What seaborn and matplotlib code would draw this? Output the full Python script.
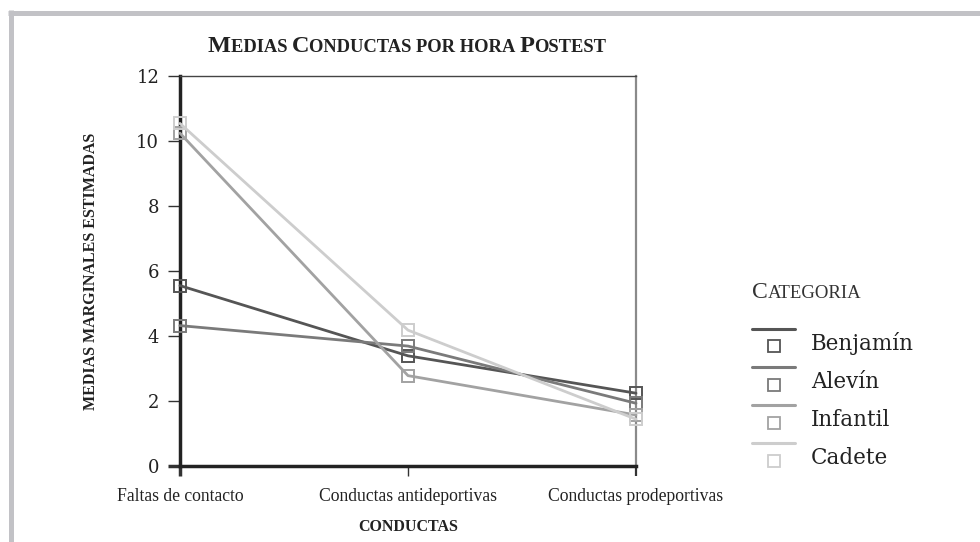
import pandas as pd
import seaborn as sns
import matplotlib.pyplot as plt
from matplotlib.lines import Line2D
from matplotlib.legend_handler import HandlerBase
from matplotlib.offsetbox import TextArea, HPacker, AnchoredOffsetbox

categorias = ["Benjamín", "Alevín", "Infantil", "Cadete"]
conductas = ["Faltas de contacto", "Conductas antideportivas", "Conductas prodeportivas"]
benjamin = [5.55, 3.39, 2.24]
alevin = [4.32, 3.69, 1.93]
infantil = [10.24, 2.78, 1.57]
cadete = [10.54, 4.18, 1.44]
y_ticks = [0, 2, 4, 6, 8, 10, 12]

colores = {"Benjamín": "#555555", "Alevín": "#7a7a7a", "Infantil": "#a2a2a2", "Cadete": "#cdcdcd"}

df = pd.DataFrame({
    "conducta": conductas * 4,
    "media": benjamin + alevin + infantil + cadete,
    "categoria": [c for c in categorias for _ in conductas],
})


class HandlerLineOverMarker(HandlerBase):
    # legend key: line at the top, hollow square below it
    def create_artists(self, legend, orig_handle, xdescent, ydescent,
                       width, height, fontsize, trans):
        color = orig_handle.get_color()
        top = height - ydescent + 3
        line = Line2D([-xdescent, width - xdescent], [top, top],
                      color=color, lw=2.2, transform=trans)
        mark = Line2D([(width - xdescent) / 2 - xdescent / 2], [height * 0.3 - ydescent],
                      marker="s", markersize=8, mfc="none", mec=color, mew=1.3,
                      linestyle="none", transform=trans)
        return [line, mark]


def small_caps(parts, big, small, weight, color):
    boxes = []
    for txt, is_big in parts:
        boxes.append(TextArea(txt, textprops=dict(
            family="Liberation Serif", fontsize=big if is_big else small,
            weight=weight, color=color)))
    return HPacker(children=boxes, align="baseline", pad=0, sep=0)


sns.set_theme(style="white")
plt.rcParams["font.family"] = ["DejaVu Serif", "DejaVu Sans"]

fig = plt.figure(figsize=(9.8, 5.42), dpi=100)
ax = fig.add_axes([180 / 980, 1 - 466 / 542, 456 / 980, 390 / 542])

sns.lineplot(data=df, x="conducta", y="media", hue="categoria", palette=colores,
             hue_order=categorias, marker="s", markersize=9, linewidth=2,
             sort=False, legend=False, ax=ax)
for line in ax.get_lines():
    line.set_markeredgecolor(line.get_color())
    line.set_markerfacecolor("none")
    line.set_markeredgewidth(1.4)
    line.set_clip_on(False)
    line.set_zorder(5)

ax.set_xlim(0, 2)
ax.set_ylim(0, 12)
ax.set_yticks(y_ticks)
ax.set_xlabel("CONDUCTAS", family="Liberation Serif", weight="bold",
              fontsize=11.5, color="#222222", labelpad=10)
ax.set_ylabel("MEDIAS MARGINALES ESTIMADAS", family="Liberation Serif", weight="bold",
              fontsize=11.5, color="#222222", labelpad=27)

for side, col, lw in [("left", "#222222", 2.5), ("bottom", "#222222", 2.5),
                      ("top", "#444444", 1.0), ("right", "#8a8a8a", 1.6)]:
    ax.spines[side].set_visible(True)
    ax.spines[side].set_color(col)
    ax.spines[side].set_linewidth(lw)

ax.tick_params(axis="y", direction="out", length=9, width=1, color="#333333",
               labelsize=13, labelcolor="#222222", pad=6, left=True)
ax.tick_params(axis="x", direction="out", length=7, width=1, color="#333333",
               labelsize=12.7, labelcolor="#222222", pad=9, bottom=True)
for lab in ax.get_xticklabels():
    lab.set_family("Liberation Serif")
xt = ax.xaxis.get_major_ticks()
xt[0].tick1line.set_color("#222222")
xt[0].tick1line.set_markeredgewidth(2.5)
xt[2].tick1line.set_color("#8a8a8a")
xt[2].tick1line.set_markeredgewidth(1.6)
yt = ax.yaxis.get_major_ticks()
yt[0].tick1line.set_markeredgewidth(2.5)
yt[0].tick1line.set_color("#222222")

# title in small caps
title = small_caps([("M", True), ("EDIAS ", False), ("C", True),
                    ("ONDUCTAS POR HORA ", False), ("P", True), ("OSTEST", False)],
                   17.5, 13.3, "bold", "#222222")
fig.add_artist(AnchoredOffsetbox(loc="center", child=title, pad=0, borderpad=0,
                                 frameon=False, bbox_to_anchor=(407 / 980, 1 - 47 / 542),
                                 bbox_transform=fig.transFigure))

# legend
handles = [Line2D([], [], color=colores[c]) for c in categorias]
fig.legend(handles, categorias, handler_map={Line2D: HandlerLineOverMarker()},
           loc="upper left", bbox_to_anchor=(752 / 980, 1 - 332 / 542),
           frameon=False, fontsize=15.5, handlelength=2.0, handleheight=1.0,
           handletextpad=0.75, labelspacing=0.75, borderpad=0, borderaxespad=0,
           labelcolor="#222222")
ley_title = small_caps([("C", True), ("ATEGORIA", False)], 17, 13.5, "normal", "#333333")
fig.add_artist(AnchoredOffsetbox(loc="center left", child=ley_title, pad=0, borderpad=0,
                                 frameon=False, bbox_to_anchor=(752 / 980, 1 - 292 / 542),
                                 bbox_transform=fig.transFigure))

# grey frame on top and left
frame = "#c2c2c6"
fig.add_artist(Line2D([8 / 980, 1], [1 - 12.5 / 542, 1 - 12.5 / 542],
                      color=frame, lw=3.6, solid_capstyle="butt", transform=fig.transFigure))
fig.add_artist(Line2D([10.5 / 980, 10.5 / 980], [0, 1 - 10 / 542],
                      color=frame, lw=3.6, solid_capstyle="butt", transform=fig.transFigure))

fig.savefig("out.png", dpi=100)
